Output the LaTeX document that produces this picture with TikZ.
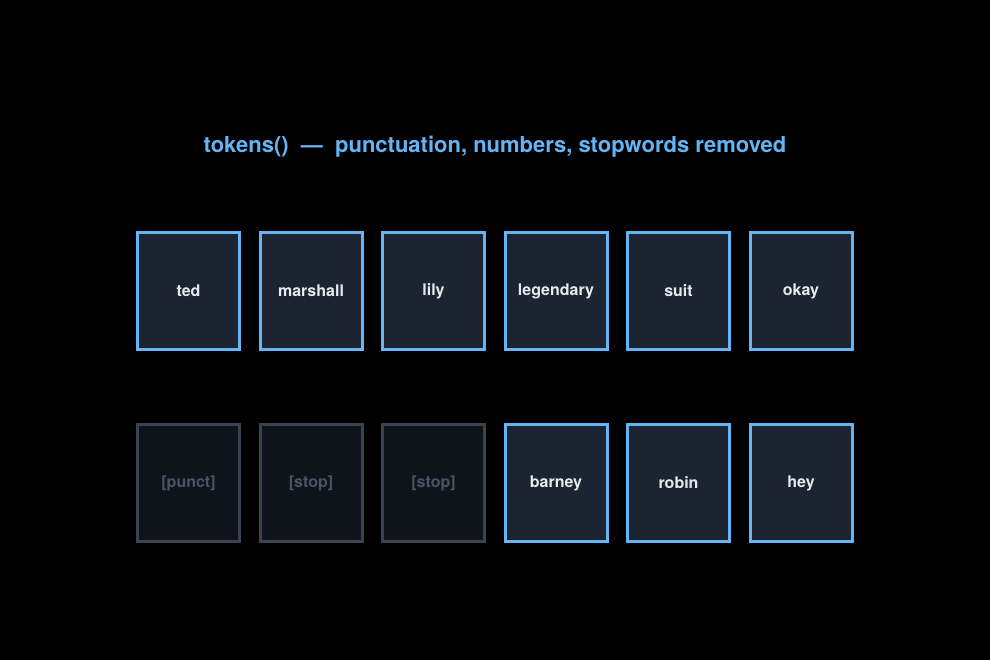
\documentclass[tikz,border=0pt]{standalone}
\usepackage{fontspec}
\setmainfont{TeX Gyre Heros}
\definecolor{accent}{HTML}{64B5F6}
\definecolor{boxfill}{HTML}{1B2430}
\definecolor{dimfill}{HTML}{0F131A}
\definecolor{dimline}{HTML}{3A4450}
\definecolor{dimtext}{HTML}{4A5563}
\definecolor{txt}{HTML}{E8EAED}
\tikzset{
 tok/.style={draw=accent,fill=boxfill,line width=3pt,minimum width=102pt,minimum height=117pt,inner sep=0pt,text=txt,font=\bfseries\fontsize{16}{18}\selectfont},
 dim/.style={tok,draw=dimline,fill=dimfill,text=dimtext}
}
\begin{document}
\begin{tikzpicture}[x=1pt,y=-1pt]
\fill[black] (0,0) rectangle (990,660);
\useasboundingbox (0,0) rectangle (990,660);
\node[text=accent,font=\bfseries\fontsize{22}{26}\selectfont] (title) at (495,147) {tokens()\ \ —\ \ punctuation, numbers, stopwords removed};
\node[tok] (a1) at (188.5,291) {ted};
\node[tok] (a2) at (311,291) {marshall};
\node[tok] (a3) at (433.5,291) {lily};
\node[tok] (a4) at (556,291) {legendary};
\node[tok] (a5) at (678.5,291) {suit};
\node[tok] (a6) at (801,291) {okay};
\node[dim] (b1) at (188.5,483) {[punct]};
\node[dim] (b2) at (311,483) {[stop]};
\node[dim] (b3) at (433.5,483) {[stop]};
\node[tok] (b4) at (556,483) {barney};
\node[tok] (b5) at (678.5,483) {robin};
\node[tok] (b6) at (801,483) {hey};
\end{tikzpicture}
\end{document}
